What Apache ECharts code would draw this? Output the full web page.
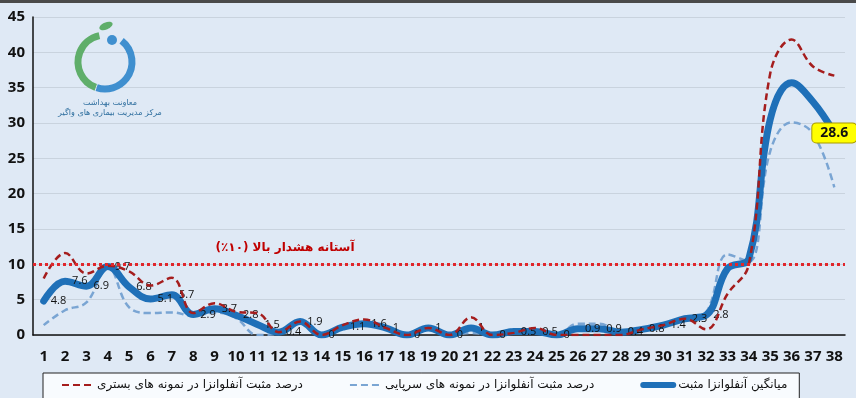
<!DOCTYPE html>
<html>
<head>
<meta charset="utf-8">
<script src="https://cdn.jsdelivr.net/npm/echarts@6/dist/echarts.min.js"></script>
<style>
  html, body { margin: 0; padding: 0; background: #dfe9f5; }
  #chart { width: 856px; height: 398px; }
</style>
</head>
<body>
<div id="chart"></div>
<script>
// weeks 1..38
var weeks = ['1','2','3','4','5','6','7','8','9','10','11','12','13','14','15','16','17','18','19',
  '20','21','22','23','24','25','26','27','28','29','30','31','32','33','34','35','36','37','38'];

var avgName = 'میانگین آنفلوانزا مثبت';
var outName = 'درصد مثبت آنفلوانزا در نمونه های سرپایی';
var hospName = 'درصد مثبت آنفلوانزا در نمونه های بستری';

var avgValues = [4.8, 7.6, 6.9, 9.7, 6.8, 5.1, 5.7, 2.9, 3.7, 2.8, 1.5, 0.4, 1.9, 0, 1.1, 1.6, 1, 0, 1,
  0, 1, 0, 0.5, 0.5, 0, 0.9, 0.9, 0.4, 0.8, 1.4, 2.3, 2.8, 9.4, 10.8, 30.5, 35.7, 33, 28.6];
var outValues = [1.4, 3.5, 4.6, 9.6, 3.9, 3.1, 3.2, 2.7, 3.2, 2.4, 0, 0.2, 1.9, 0, 1, 1.7, 1, 0, 1,
  0, 0.3, 0, 0.8, 0.5, 0, 1.6, 1.6, 0.5, 0.8, 1.4, 2.3, 3.2, 11.4, 10.4, 26, 30.1, 28.5, 20.9];
var hospValues = [8, 11.6, 8.7, 9.8, 9, 7, 8.1, 3.1, 4.5, 3.3, 3.1, 0.4, 1.9, 0, 1.4, 2.2, 1, 0, 1,
  0, 2.5, 0, 0.3, 1, 0, 0, 0, 0, 0.8, 1.4, 2.3, 0.8, 5.8, 10, 37, 41.8, 38, 36.7];

var threshold = 10;
var thresholdText = 'آستانه هشدار بالا (۱۰٪)';
var yTicks = { min: 0, max: 45, step: 5 };

var numFont = '"Open Sans", "Noto Sans", sans-serif';
var faFont = '"DejaVu Sans", "Noto Sans", sans-serif';

// labels on the average line: weeks 1-32 plain, last week boxed, others hidden
var avgData = avgValues.map(function (v, i) {
  if (i === avgValues.length - 1) {
    return {
      value: v,
      label: {
        show: true, position: 'inside', offset: [-4, 0],
        backgroundColor: '#ffff00', borderColor: '#a89a00', borderWidth: 1, borderRadius: 4,
        padding: [3, 8, 2, 8], fontSize: 14, fontWeight: 'bold', color: '#111'
      }
    };
  }
  if (i >= 32) return { value: v, label: { show: false } };
  return v;
});

var chart = echarts.init(document.getElementById('chart'));
var option = {
  backgroundColor: '#dfe9f5',
  animation: false,
  grid: { left: 33, right: 11, top: 17, bottom: 63 },
  legend: {
    left: 43, top: 373,
    data: [
      { name: hospName },
      { name: outName },
      { name: avgName, lineStyle: { width: 6 } }
    ],
    backgroundColor: '#f8fbfe',
    borderColor: '#222', borderWidth: 1, borderRadius: 0,
    padding: [6, 12, 12, 18],
    itemGap: 46, itemWidth: 30, itemHeight: 8,
    itemStyle: { opacity: 0 },
    textStyle: { fontFamily: faFont, fontSize: 12, color: '#111' }
  },
  xAxis: {
    type: 'category',
    data: weeks,
    boundaryGap: true,
    axisLine: { lineStyle: { color: '#111', width: 1.5 } },
    axisTick: { show: false },
    axisLabel: { margin: 14, fontFamily: numFont, fontSize: 15, fontWeight: 'bold', color: '#111', interval: 0 }
  },
  yAxis: {
    type: 'value',
    min: yTicks.min, max: yTicks.max, interval: yTicks.step,
    axisLine: { show: true, lineStyle: { color: '#111', width: 1.5 } },
    axisTick: { show: false },
    splitLine: { lineStyle: { color: '#c9d3de', width: 1 } },
    axisLabel: { margin: 8, fontFamily: numFont, fontSize: 15, fontWeight: 'bold', color: '#111' }
  },
  graphic: [
    { type: 'rect', shape: { x: 0, y: 0, width: 856, height: 3 }, style: { fill: '#4a4a4a' }, z: 100 },
    // logo
    { type: 'arc', shape: { cx: 105, cy: 62, r: 27, startAngle: 110 * Math.PI / 180, endAngle: 258 * Math.PI / 180 },
      style: { stroke: '#5fae6a', lineWidth: 7, fill: null }, z: 10 },
    { type: 'arc', shape: { cx: 105, cy: 62, r: 27, startAngle: -52 * Math.PI / 180, endAngle: 108 * Math.PI / 180 },
      style: { stroke: '#3f8fcf', lineWidth: 7, fill: null }, z: 10 },
    { type: 'circle', shape: { cx: 112, cy: 40, r: 5 }, style: { fill: '#3f8fcf' }, z: 10 },
    { type: 'ellipse', shape: { cx: 106, cy: 26, rx: 7, ry: 3.5 }, rotation: 0.4, originX: 106, originY: 26,
      style: { fill: '#5fae6a' }, z: 10 },
    { type: 'text', x: 110, y: 103, style: { text: 'معاونت بهداشت', fill: '#2f6f9f', font: '8px ' + faFont, align: 'center', verticalAlign: 'middle' }, z: 10 },
    { type: 'text', x: 110, y: 113, style: { text: 'مرکز مدیریت بیماری های واگیر', fill: '#2f6f9f', font: '8px ' + faFont, align: 'center', verticalAlign: 'middle' }, z: 10 },
    // threshold label
    { type: 'text', x: 285, y: 248, style: { text: thresholdText, fill: '#c00000', font: 'bold 12px ' + faFont, align: 'center', verticalAlign: 'middle' }, z: 10 }
  ],
  series: [
    {
      name: outName,
      type: 'line',
      data: outValues,
      smooth: 0.4,
      symbol: 'none',
      lineStyle: { color: '#7aa5d3', width: 2.5, type: [7, 4] },
      itemStyle: { color: '#7aa5d3' },
      z: 2
    },
    {
      name: avgName,
      type: 'line',
      data: avgData,
      smooth: 0.4,
      symbol: 'circle',
      symbolSize: 0.1,
      showSymbol: true,
      lineStyle: { color: '#1f70b8', width: 7, cap: 'round', join: 'round' },
      itemStyle: { color: '#1f70b8' },
      label: {
        show: true, position: 'right', distance: 7,
        fontFamily: numFont, fontSize: 11, color: '#111'
      },
      labelLayout: { hideOverlap: false },
      z: 3,
      markLine: {
        silent: true,
        symbol: 'none',
        label: { show: false },
        lineStyle: { color: '#e0262b', width: 3, type: [3, 3] },
        data: [{ yAxis: threshold }]
      }
    },
    {
      name: hospName,
      type: 'line',
      data: hospValues,
      smooth: 0.4,
      symbol: 'none',
      lineStyle: { color: '#a51d1d', width: 2.5, type: [7, 4] },
      itemStyle: { color: '#a51d1d' },
      z: 4
    }
  ]
};
chart.setOption(option);
</script>
</body>
</html>
